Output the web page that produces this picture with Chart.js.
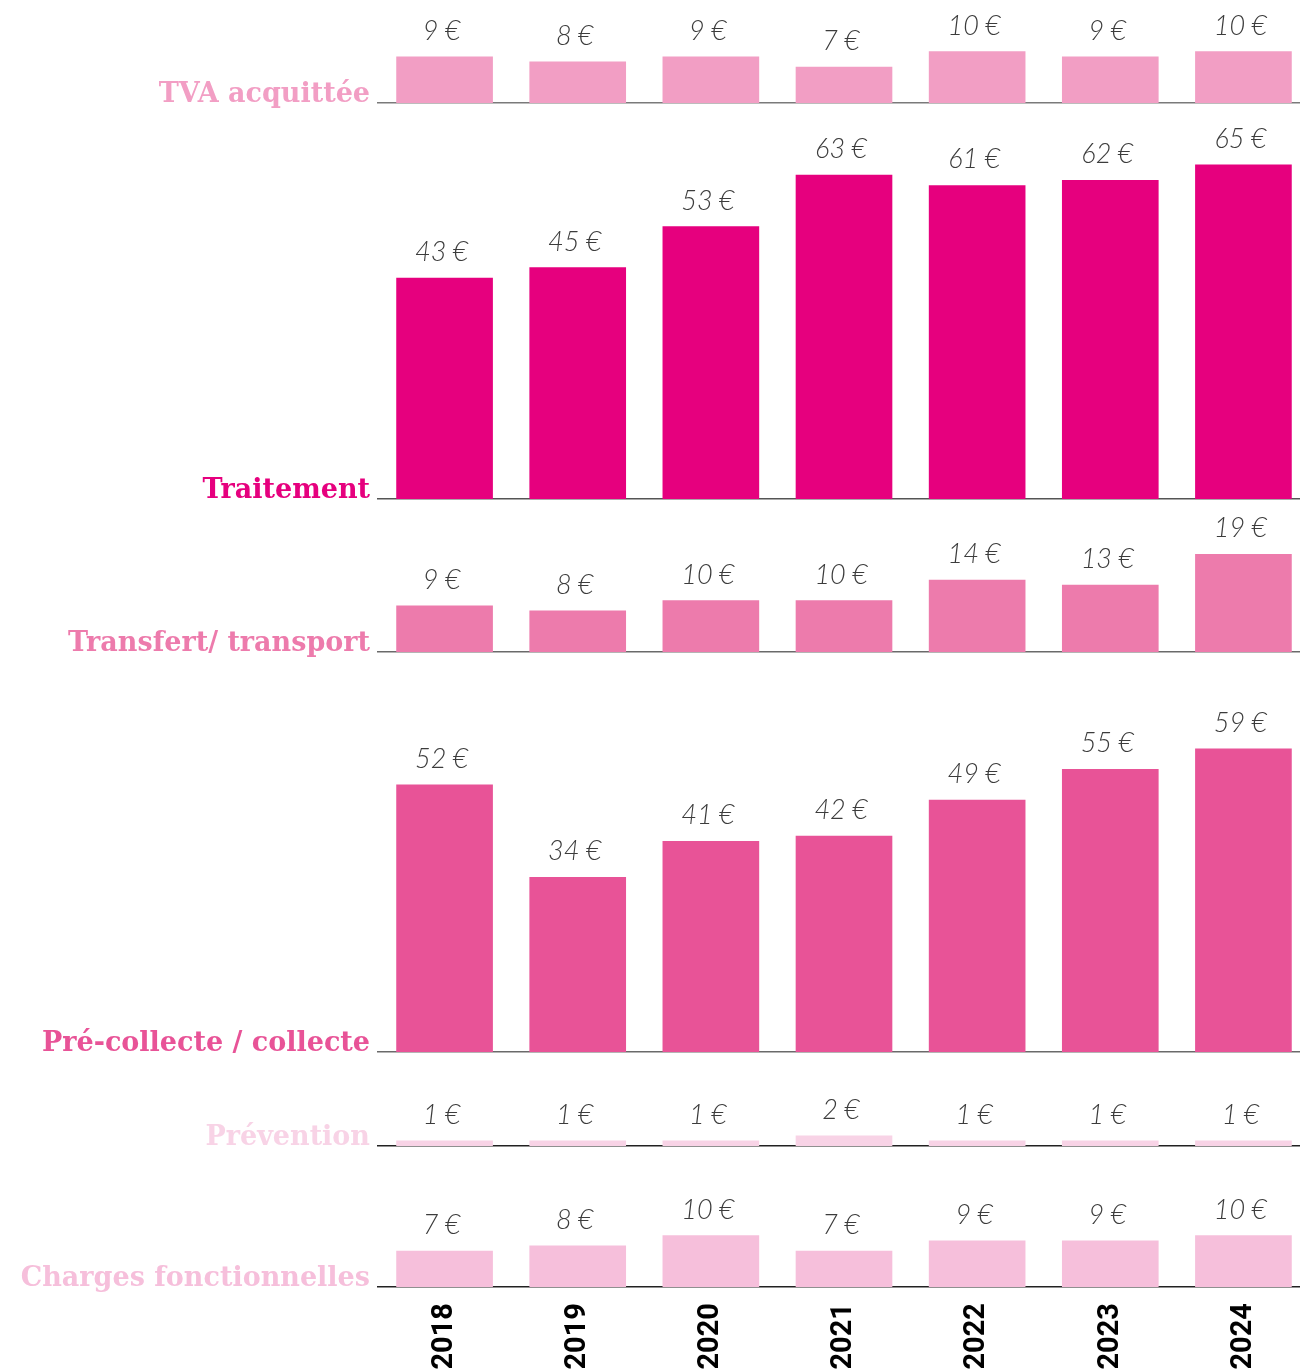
<!DOCTYPE html>
<html>
<head>
<meta charset="utf-8">
<script src="https://cdn.jsdelivr.net/npm/chart.js@4.4.1/dist/chart.umd.min.js"></script>
<style>
  html, body { margin: 0; padding: 0; background: #fff; overflow: hidden; }
  #wrap { position: relative; width: 1300px; height: 1371px; overflow: hidden; }
  #wrap canvas { position: absolute; left: 0; }
</style>
</head>
<body>
<div id="wrap"></div>
<script>
// data
var years = ['2018', '2019', '2020', '2021', '2022', '2023', '2024'];
var tva = [9, 8, 9, 7, 10, 9, 10];
var traitement = [43, 45, 53, 63, 61, 62, 65];
var transfert = [9, 8, 10, 10, 14, 13, 19];
var collecte = [52, 34, 41, 42, 49, 55, 59];
var prevention = [1, 1, 1, 2, 1, 1, 1];
var charges = [7, 8, 10, 7, 9, 9, 10];

var PX = 5.14; // pixels per euro, same for every row

var rows = [
  { label: 'TVA acquittée', data: tva, color: '#f29ec4', line: '#7a7a7a', top: 0, bottom: 103 },
  { label: 'Traitement', data: traitement, color: '#e6007e', line: '#555', top: 108, bottom: 499 },
  { label: 'Transfert/ transport', data: transfert, color: '#ed7bac', line: '#6a6a6a', top: 505, bottom: 652 },
  { label: 'Pré-collecte / collecte', data: collecte, color: '#e85397', line: '#6a6a6a', top: 690, bottom: 1052 },
  { label: 'Prévention', data: prevention, color: '#f8d3e6', line: '#222', top: 1085, bottom: 1146 },
  { label: 'Charges fonctionnelles', data: charges, color: '#f6bfdb', line: '#222', top: 1180, bottom: 1287 }
];

var wrap = document.getElementById('wrap');

rows.forEach(function (row, i) {
  var last = i === rows.length - 1;
  var axisH = last ? 84 : 12; // room under the baseline (descenders / years)
  var h = row.bottom - row.top;
  var canvas = document.createElement('canvas');
  canvas.width = 1310;
  canvas.height = h + axisH;
  canvas.style.top = row.top + 'px';
  wrap.appendChild(canvas);

  var labelsPlugin = {
    id: 'rowLabels',
    afterDatasetsDraw: function (chart) {
      var ctx = chart.ctx;
      var area = chart.chartArea;
      ctx.save();
      // row name
      ctx.font = 'bold 27px "DejaVu Serif"';
      ctx.fillStyle = row.color;
      ctx.textAlign = 'right';
      ctx.textBaseline = 'alphabetic';
      ctx.fillText(row.label, area.left - 8, area.bottom - 1);
      // values above bars
      ctx.font = 'italic 300 27px Lato';
      ctx.fillStyle = '#3c3c3c';
      ctx.textAlign = 'center';
      chart.getDatasetMeta(0).data.forEach(function (bar, j) {
        ctx.fillText(row.data[j] + '\u202F€', bar.x - 3, bar.y - 17);
      });
      ctx.restore();
    }
  };

  new Chart(canvas.getContext('2d'), {
    type: 'bar',
    data: {
      labels: years,
      datasets: [{
        data: row.data,
        backgroundColor: row.color,
        borderWidth: 0,
        barThickness: 96
      }]
    },
    options: {
      responsive: false,
      animation: false,
      devicePixelRatio: 1,
      layout: { padding: { left: 378, right: 0, top: 0, bottom: 0 } },
      plugins: { legend: { display: false }, tooltip: { enabled: false } },
      scales: {
        x: {
          grid: { display: false, drawTicks: false },
          border: { display: true, color: row.line, width: 1.5 },
          ticks: {
            display: last,
            maxRotation: 90,
            minRotation: 90,
            padding: 16,
            color: '#000',
            font: { family: 'Roboto', weight: 'bold', size: 29 }
          },
          afterFit: function (scale) { scale.height = axisH; }
        },
        y: {
          display: false,
          min: 0,
          max: h / PX
        }
      }
    },
    plugins: [labelsPlugin]
  });
});
</script>
</body>
</html>
